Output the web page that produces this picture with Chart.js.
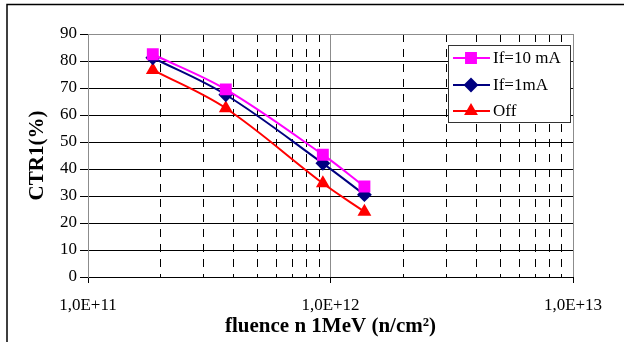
<!DOCTYPE html>
<html>
<head>
<meta charset="utf-8">
<script src="https://cdn.jsdelivr.net/npm/chart.js@4.4.0/dist/chart.umd.min.js"></script>
<style>
  html, body { margin: 0; padding: 0; background: #fff; }
  #wrap { width: 624px; height: 342px; }
</style>
</head>
<body>
<div id="wrap"><canvas id="ctrChart" width="624" height="342"></canvas></div>
<script>
// fluence points (n/cm2) and CTR1 readings in %
var fluence = [1.85e11, 3.7e11, 9.3e11, 1.38e12];
var ctr10mA = [82.5, 69.5, 45.3, 33.5];
var ctr1mA = [81.2, 67.5, 42.1, 30.5];
var ctrOff = [76.7, 62.5, 34.7, 24.2];

var seriesNames = ['If=10 mA', 'If=1mA', 'Off'];
var xMajorTicks = [1e11, 1e12, 1e13];
var xTickLabels = ['1,0E+11', '1,0E+12', '1,0E+13'];
var yTicks = [0, 10, 20, 30, 40, 50, 60, 70, 80, 90];

var serif = "'Liberation Serif', 'Times New Roman', serif";

function toPoints(ys) {
  return ys.map(function(y, i) { return {x: fluence[i], y: y}; });
}

function isMajor(v) {
  return xMajorTicks.some(function(m) { return Math.abs(v - m) < m * 1e-6; });
}

// legend drawn inside the plot, in a framed box
var boxLegend = {
  id: 'boxLegend',
  afterDatasetsDraw: function(chart) {
    var ctx = chart.ctx;
    ctx.save();
    ctx.fillStyle = '#fff';
    ctx.fillRect(448, 45, 123, 78);
    ctx.strokeStyle = '#333';
    ctx.lineWidth = 1;
    ctx.strokeRect(448.5, 45.5, 122, 77);
    var rows = [58, 85, 111];
    chart.data.datasets.forEach(function(ds, i) {
      var y = rows[i];
      ctx.strokeStyle = ds.borderColor;
      ctx.lineWidth = 2;
      ctx.beginPath();
      ctx.moveTo(453, y);
      ctx.lineTo(490, y);
      ctx.stroke();
      ctx.fillStyle = ds.pointBackgroundColor;
      ctx.strokeStyle = ds.pointBorderColor;
      Chart.helpers.drawPoint(ctx, {pointStyle: ds.pointStyle, radius: ds.pointRadius, rotation: 0, borderWidth: 1}, 471, y);
      ctx.fillStyle = '#000';
      ctx.font = '17px ' + serif;
      ctx.textBaseline = 'middle';
      ctx.textAlign = 'left';
      ctx.fillText(ds.label, 493, y + 1);
    });
    ctx.restore();
  }
};

// gray plot frame and the outer chart border
var frames = {
  id: 'frames',
  beforeDatasetsDraw: function(chart) {
    var a = chart.chartArea, ctx = chart.ctx;
    ctx.save();
    ctx.strokeStyle = '#8c8c8c';
    ctx.lineWidth = 1;
    ctx.beginPath();
    ctx.moveTo(Math.round(a.left) + 0.5, Math.round(a.bottom));
    ctx.lineTo(Math.round(a.left) + 0.5, Math.round(a.top) + 0.5);
    ctx.lineTo(Math.round(a.right) + 0.5, Math.round(a.top) + 0.5);
    ctx.lineTo(Math.round(a.right) + 0.5, Math.round(a.bottom));
    ctx.stroke();
    ctx.restore();
  },
  afterDraw: function(chart) {
    var ctx = chart.ctx;
    ctx.save();
    ctx.strokeStyle = '#000';
    ctx.lineWidth = 1.5;
    ctx.beginPath();
    ctx.moveTo(7, 342);
    ctx.lineTo(7, 4.5);
    ctx.lineTo(624, 4.5);
    ctx.stroke();
    ctx.restore();
  }
};

var ctx = document.getElementById('ctrChart').getContext('2d');

var ctrChart = new Chart(ctx, {
  type: 'line',
  data: {
    datasets: [{
      label: seriesNames[0],
      data: toPoints(ctr10mA),
      borderColor: '#ff00ff',
      pointBackgroundColor: '#ff00ff',
      pointBorderColor: '#ff00ff',
      pointStyle: 'rect',
      pointRadius: 7,
      borderWidth: 2,
      tension: 0.35
    }, {
      label: seriesNames[1],
      data: toPoints(ctr1mA),
      borderColor: '#000080',
      pointBackgroundColor: '#000080',
      pointBorderColor: '#000080',
      pointStyle: 'rectRot',
      pointRadius: 6,
      borderWidth: 2,
      tension: 0.35
    }, {
      label: seriesNames[2],
      data: toPoints(ctrOff),
      borderColor: '#ff0000',
      pointBackgroundColor: '#ff0000',
      pointBorderColor: '#ff0000',
      pointStyle: 'triangle',
      pointRadius: 6,
      borderWidth: 2,
      tension: 0.35
    }]
  },
  options: {
    responsive: false,
    animation: false,
    layout: { padding: { top: 34, right: 51, left: 0, bottom: 0 } },
    plugins: {
      legend: { display: false },
      tooltip: { enabled: false }
    },
    scales: {
      x: {
        type: 'logarithmic',
        min: 1e11,
        max: 1e13,
        afterBuildTicks: function(scale) {
          var ticks = [];
          xMajorTicks.forEach(function(m, i) {
            ticks.push({value: m});
            if (i < xMajorTicks.length - 1) {
              for (var k = 2; k <= 9; k++) ticks.push({value: k * m});
            }
          });
          scale.ticks = ticks;
        },
        afterFit: function(scale) { scale.height = 65; },
        ticks: {
          autoSkip: false,
          maxRotation: 0,
          padding: 12,
          color: '#000',
          font: { family: serif, size: 17 },
          callback: function(value) {
            var idx = xMajorTicks.findIndex(function(m) { return Math.abs(value - m) < m * 1e-6; });
            return idx >= 0 ? xTickLabels[idx] : '';
          }
        },
        grid: {
          tickLength: 6,
          lineWidth: 1,
          color: function(c) {
            if (!c.tick) return '#000';
            return isMajor(c.tick.value) ? '#8c8c8c' : '#000';
          },
          tickColor: function(c) {
            if (!c.tick) return '#000';
            return isMajor(c.tick.value) ? '#000' : 'rgba(0,0,0,0)';
          }
        },
        border: {
          color: '#000',
          width: 1,
          dash: function(c) {
            if (!c.tick) return [];
            return isMajor(c.tick.value) ? [] : [8, 7];
          }
        },
        title: {
          display: true,
          text: 'fluence n 1MeV (n/cm²)',
          color: '#000',
          font: { family: serif, size: 21, weight: 'bold' },
          padding: { top: 0, bottom: 3 }
        }
      },
      y: {
        min: 0,
        max: 90,
        afterBuildTicks: function(scale) {
          scale.ticks = yTicks.map(function(v) { return {value: v}; });
        },
        afterFit: function(scale) { scale.width = 88; },
        ticks: {
          padding: 3,
          color: '#000',
          font: { family: serif, size: 17 }
        },
        grid: {
          tickLength: 8,
          lineWidth: 1,
          color: '#000',
          tickColor: '#000'
        },
        border: { color: '#8c8c8c', width: 1 },
        title: {
          display: true,
          text: 'CTR1(%)',
          color: '#000',
          font: { family: serif, size: 21, weight: 'bold' },
          padding: { top: 25, bottom: 0 }
        }
      }
    }
  },
  plugins: [frames, boxLegend]
});
</script>
</body>
</html>
